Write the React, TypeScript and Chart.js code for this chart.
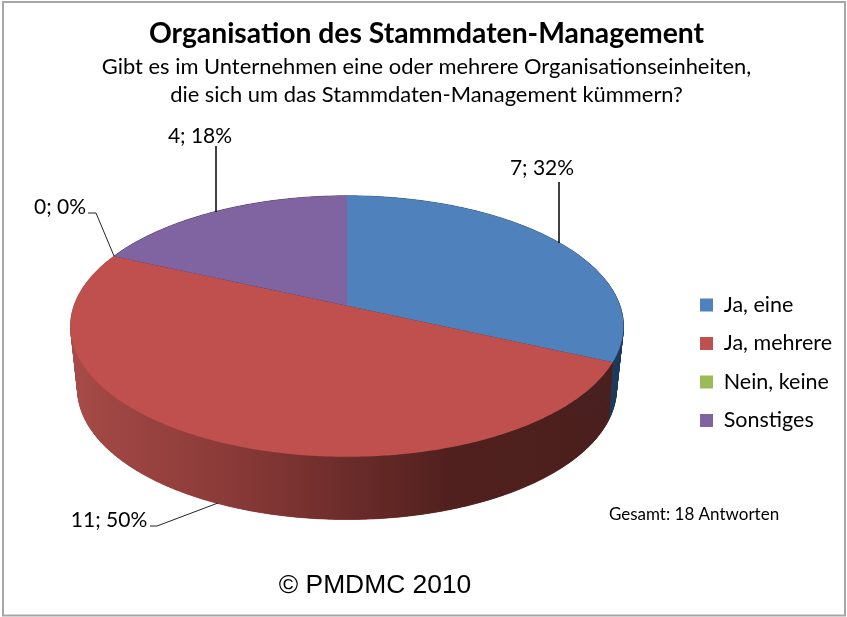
import React, { useEffect, useRef } from "react";
import { Chart, registerables } from "chart.js";

Chart.register(...registerables);

const categories = ["Ja, eine", "Ja, mehrere", "Nein, keine", "Sonstiges"];
const values = [7, 11, 0, 4];
const percents = [32, 50, 0, 18];
const topColors = ["#4f81bd", "#c0504d", "#9bbb59", "#8064a2"];
const sideColor = ["#1f3a5c", "", "#3f4f22", "#332840"];
const titleText = "Organisation des Stammdaten-Management";
const subtitleLines = [
  "Gibt es im Unternehmen eine oder mehrere Organisationseinheiten,",
  "die sich um das Stammdaten-Management kümmern?",
];
const totalNote = "Gesamt: 18 Antworten";
const copyright = "© PMDMC 2010";

const FONT = "Lato, Carlito, Calibri, sans-serif";

// projection of the flat disc to the tilted view
function project(cx: number, cy: number, a: number, b: number, k: number, theta: number) {
  const u = Math.sin(theta);
  const v = -Math.cos(theta);
  const d = 1 - k * v;
  return [cx + (a * u) / d, cy + (b * v) / d];
}

function arcPoints(cx: number, cy: number, a: number, b: number, k: number, t0: number, t1: number) {
  const n = Math.max(2, Math.ceil((t1 - t0) / 0.01));
  const pts: number[][] = [];
  for (let i = 0; i <= n; i++) pts.push(project(cx, cy, a, b, k, t0 + ((t1 - t0) * i) / n));
  return pts;
}

function fillPath(ctx: CanvasRenderingContext2D, pts: number[][], fill: any, seam = 0) {
  ctx.beginPath();
  pts.forEach((p, i) => (i ? ctx.lineTo(p[0], p[1]) : ctx.moveTo(p[0], p[1])));
  ctx.closePath();
  ctx.fillStyle = fill;
  ctx.fill();
  if (seam) {
    ctx.strokeStyle = fill;
    ctx.lineWidth = seam;
    ctx.stroke();
  }
}

const pie3d = {
  id: "pie3d",
  beforeDatasetDraw(chart: any, args: any) {
    const ctx: CanvasRenderingContext2D = chart.ctx;
    const arcs = args.meta.data;
    const first = arcs[0];
    const a = first.outerRadius;
    const cx = first.x;
    const topY = first.y - 57;
    const botY = topY + 57;
    const b = a * 0.4663;
    const k = 0.157;
    const a2 = a * 0.967;
    const b2 = a * 0.4593;
    const k2 = 0.2;

    const grad = ctx.createLinearGradient(cx - 276, 0, cx + 277, 0);
    grad.addColorStop(0, "#a84c49");
    grad.addColorStop(0.04, "#a24845");
    grad.addColorStop(0.29, "#8a3a38");
    grad.addColorStop(0.47, "#702e2c");
    grad.addColorStop(0.69, "#50201e");
    grad.addColorStop(1, "#4a1f1d");

    ctx.save();
    arcs.forEach((arc: any, i: number) => {
      const t0 = arc.startAngle + Math.PI / 2;
      const t1 = arc.endAngle + Math.PI / 2;
      if (t1 - t0 < 1e-6) return;
      const fill = sideColor[i] || grad;
      const up = arcPoints(cx, topY, a, b, k, t0, t1);
      const low = arcPoints(cx, botY, a2, b2, k2, t0, t1);
      fillPath(ctx, [[cx, botY], ...low], fill);
      for (let j = 0; j + 1 < up.length; j++) {
        fillPath(ctx, [up[j], up[j + 1], low[j + 1], low[j]], fill, 0.6);
      }
    });
    arcs.forEach((arc: any, i: number) => {
      const t0 = arc.startAngle + Math.PI / 2;
      const t1 = arc.endAngle + Math.PI / 2;
      if (t1 - t0 < 1e-6) return;
      fillPath(ctx, [[cx, topY], ...arcPoints(cx, topY, a, b, k, t0, t1)], arc.options.backgroundColor);
    });
    ctx.restore();
    return false;
  },
};

const annotations = {
  id: "annotations",
  beforeDraw(chart: any) {
    const ctx: CanvasRenderingContext2D = chart.ctx;
    ctx.save();
    ctx.strokeStyle = "#a6a6a6";
    ctx.lineWidth = 2;
    ctx.strokeRect(3, 2, 842, 613.5);
    ctx.restore();
  },
  afterDraw(chart: any) {
    const ctx: CanvasRenderingContext2D = chart.ctx;
    ctx.save();
    const label = (i: number) => `${values[i]}; ${percents[i]}%`;
    ctx.fillStyle = "#000";
    ctx.textBaseline = "middle";
    ctx.textAlign = "center";
    ctx.font = `21px ${FONT}`;
    ctx.fillText(label(0), 542, 168);
    ctx.fillText(label(3), 200, 136);
    ctx.fillText(label(2), 60, 207);
    ctx.fillText(label(1), 109, 520);

    const line = (pts: number[][], color = "#000", w = 1.5) => {
      ctx.strokeStyle = color;
      ctx.lineWidth = w;
      ctx.beginPath();
      pts.forEach((p, i) => (i ? ctx.lineTo(p[0], p[1]) : ctx.moveTo(p[0], p[1])));
      ctx.stroke();
    };
    line([[559, 182], [559, 243]]);
    line([[216, 146], [216, 212]]);
    line([[88, 213], [96, 213], [114, 256]], "#222", 1);
    line([[150, 526], [157, 526], [218, 503]], "#222", 1);

    ctx.font = `17px ${FONT}`;
    ctx.fillStyle = "#000";
    ctx.fillText(totalNote, 694, 515);
    ctx.font = `26.4px "Liberation Sans", Arial, sans-serif`;
    ctx.fillText(copyright, 375, 586);
    ctx.restore();
  },
};

export default function App() {
  const ref = useRef<HTMLCanvasElement | null>(null);
  useEffect(() => {
    document.body.style.margin = "0";
    document.body.style.background = "#fff";
    const chart = new Chart(ref.current as HTMLCanvasElement, {
      type: "pie",
      data: {
        labels: categories,
        datasets: [{ data: values, backgroundColor: topColors, borderWidth: 0, radius: 273 } as any],
      },
      plugins: [pie3d, annotations],
      options: {
        animation: false,
        responsive: false,
        layout: { padding: { top: 12, left: 11, right: 5, bottom: 4 } },
        plugins: {
          title: {
            display: true,
            text: titleText,
            color: "#000",
            font: { family: FONT, size: 28.3, weight: "bold", lineHeight: 1.2 },
            padding: { top: 5, bottom: 2 },
          },
          subtitle: {
            display: true,
            text: subtitleLines,
            color: "#000",
            font: { family: FONT, size: 21.9, weight: "normal", lineHeight: 1.27 },
            padding: { top: 0, bottom: 4 },
          },
          legend: {
            display: true,
            position: "right",
            fullSize: false,
            labels: {
              boxWidth: 13,
              boxHeight: 13,
              padding: 17,
              color: "#000",
              font: { family: FONT, size: 21.5 },
            },
          },
          tooltip: { enabled: false },
        },
      },
    } as any);
    return () => chart.destroy();
  }, []);
  return <canvas ref={ref} width={847} height={617} style={{ display: "block" }} />;
}
